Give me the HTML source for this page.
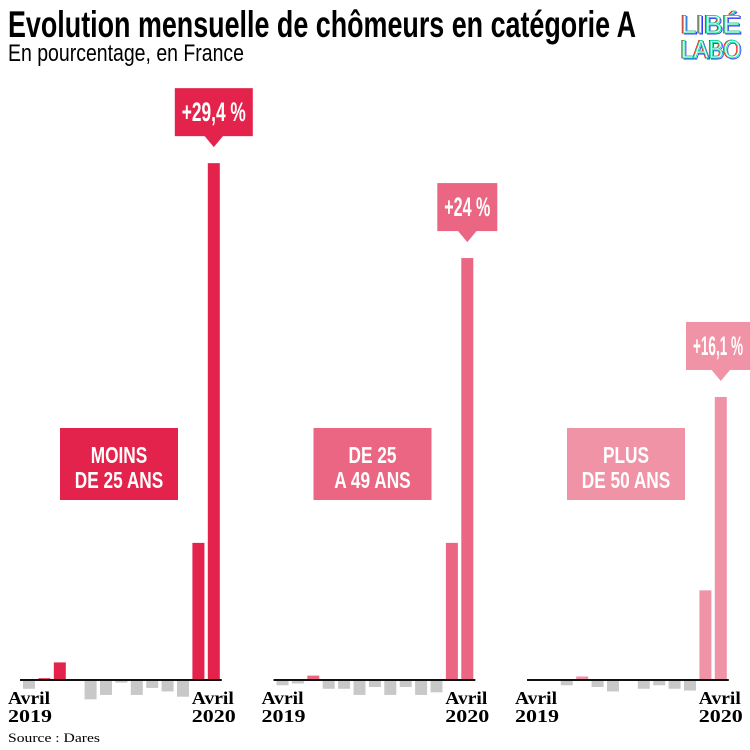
<!DOCTYPE html>
<html><head><meta charset="utf-8"><style>
body{margin:0;background:#fff}
svg{display:block}
.cond{font-family:"Liberation Sans Narrow","Liberation Sans",sans-serif;font-weight:bold}
.ser{font-family:"Liberation Serif",serif;font-weight:bold}
</style></head><body>
<svg id="chart" width="750" height="750" viewBox="0 0 750 750">
<text class="cond" x="8" y="37" font-size="37" textLength="628" lengthAdjust="spacingAndGlyphs">Evolution mensuelle de chômeurs en catégorie A</text>
<text x="8" y="61" font-size="24" font-family="Liberation Sans, sans-serif" textLength="236" lengthAdjust="spacingAndGlyphs">En pourcentage, en France</text>
<g font-size="25" font-family="Liberation Sans, sans-serif" fill="#fff" stroke-width="0.9">
<text x="680" y="33" stroke="#f00" textLength="60" lengthAdjust="spacingAndGlyphs">LIBÉ</text>
<text x="682" y="34" stroke="#33f" textLength="60" lengthAdjust="spacingAndGlyphs">LIBÉ</text>
<text x="681" y="33" stroke="#1d9" textLength="60" lengthAdjust="spacingAndGlyphs">LIBÉ</text>
<text x="680" y="58" stroke="#f00" textLength="60" lengthAdjust="spacingAndGlyphs">LABO</text>
<text x="682" y="59" stroke="#33f" textLength="60" lengthAdjust="spacingAndGlyphs">LABO</text>
<text x="681" y="58" stroke="#1d9" textLength="60" lengthAdjust="spacingAndGlyphs">LABO</text>
</g>
<text x="8" y="742" font-size="13" font-family="Liberation Serif, serif" textLength="92" lengthAdjust="spacingAndGlyphs">Source : Dares</text>
<g id="panels"></g>
</svg>
<script>
const months = ["avr-19","mai-19","juin-19","juil-19","août-19","sept-19","oct-19","nov-19","déc-19","janv-20","févr-20","mars-20","avr-20"];
const seriesYoung = [-0.5,0.1,1.0,0,-1.1,-0.85,-0.15,-0.85,-0.45,-0.65,-0.95,7.8,29.4];
const seriesMid = [-0.3,-0.2,0.25,-0.5,-0.5,-0.85,-0.4,-0.85,-0.4,-0.85,-0.7,7.8,24];
const seriesOld = [0,0,-0.3,0.2,-0.4,-0.65,0,-0.5,-0.3,-0.5,-0.6,5.1,16.1];
const groupLabels = [["MOINS","DE 25 ANS"],["DE 25","A 49 ANS"],["PLUS","DE 50 ANS"]];
const peakLabels = ["+29,4 %","+24 %","+16,1 %"];
const colors = ["#e3234b","#eb6682","#f093a6"];
const allSeries = [seriesYoung, seriesMid, seriesOld];
const NS = "http://www.w3.org/2000/svg";
const g = document.getElementById("panels");
const baseY = 680, pxPer = 17.58, pitch = 15.4, barW = 12;
const y = v => baseY - v * pxPer;
function mk(tag, attrs, parent){const e=document.createElementNS(NS,tag);for(const k in attrs)e.setAttribute(k,attrs[k]);parent.appendChild(e);return e;}
function squeeze(t, f){const w=t.getComputedTextLength();t.setAttribute("textLength",(w*f).toFixed(1));t.setAttribute("lengthAdjust","spacingAndGlyphs");}
const panelX = [23, 276.5, 530];
allSeries.forEach((s, p) => {
  const x0 = panelX[p];
  const x = i => x0 + i * pitch;
  const pg = mk("g", {}, g);
  
  
  s.forEach((v, i) => {
    const r = mk("rect", {x: x(i), y: Math.min(y(v), baseY), width: barW, height: Math.abs(y(v) - baseY), fill: v > 0 ? colors[p] : "#c8c8c8"}, pg);
    
    
  });
  const ax = mk("line", {x1: x0 - 3, x2: x(12) + barW + 2, y1: baseY, y2: baseY, stroke: "#111", "stroke-width": 2}, pg);
  
  
  const sx = x0 - 15, ex = x(12) + barW + 16;
  const l1 = mk("text", {x: sx, y: 704, class: "ser", "font-size": 18, textLength: 42, lengthAdjust: "spacingAndGlyphs"}, pg);
  l1.textContent = "Avril";
  
  
  const l2 = mk("text", {x: sx, y: 722, class: "ser", "font-size": 18, textLength: 44, lengthAdjust: "spacingAndGlyphs"}, pg);
  l2.textContent = "2019";
  
  
  const l3 = mk("text", {x: ex - 44, y: 704, class: "ser", "font-size": 18, textLength: 42, lengthAdjust: "spacingAndGlyphs"}, pg);
  l3.textContent = "Avril";
  
  
  const l4 = mk("text", {x: ex - 44, y: 722, class: "ser", "font-size": 18, textLength: 44, lengthAdjust: "spacingAndGlyphs"}, pg);
  l4.textContent = "2020";
  
  
  const bx = x0 + 37;
  const box = mk("rect", {x: bx, y: 428, width: 118, height: 72, fill: colors[p]}, pg);
  
  
  groupLabels[p].forEach((t, k) => {
    const tt = mk("text", {x: bx + 59, y: 463 + k * 25, class: "cond", "font-size": 23, fill: "#fff", "text-anchor": "middle"}, pg);
    tt.textContent = t;
    
    
    squeeze(tt, 0.75);
  });
  const last = s[12], cx = x(12) + barW / 2, top = y(last);
  const w = p === 1 ? 60 : (p === 0 ? 78 : 64);
  const bxr = p === 2 ? 750 - w : cx - w / 2;
  const cb = mk("rect", {x: bxr, y: top - 75, width: w, height: 48, fill: colors[p]}, pg);
  
  
  const tri = mk("polygon", {points: `${cx-10},${top-28} ${cx+10},${top-28} ${cx},${top-16}`, fill: colors[p]}, pg);
  
  
  const pt = mk("text", {x: bxr + w / 2, y: top - 42, class: "cond", "font-size": 27, fill: "#fff", "text-anchor": "middle"}, pg);
  pt.textContent = peakLabels[p];
  
  
  pt.setAttribute("textLength", w - 14);
  pt.setAttribute("lengthAdjust", "spacingAndGlyphs");
});
</script>
</body></html>
